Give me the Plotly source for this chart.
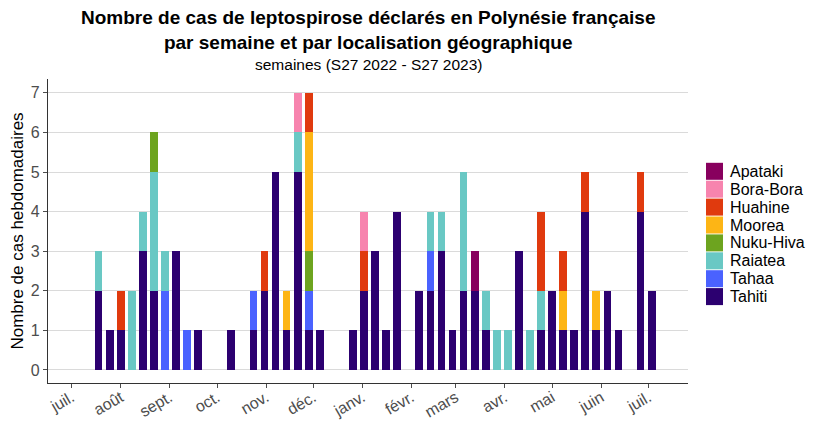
import pandas as pd
import plotly.graph_objects as go

# ISO weeks S27 2022 -> S27 2023 (week start Mondays)
week_start = pd.date_range("2022-07-04", periods=53, freq="7D")

tahiti    = [0,0, 2,1,1,0,3,2,0,3,0,1,0,0,1,0,1,2,5,1,5,1,1,0,0,1,2,3,1,4,0,2,2,3,1,2,2,1,0,0,3,0,1,2,1,1,4,1,2,1,0,4,2]
tahaa     = [0,0, 0,0,0,0,0,0,2,0,1,0,0,0,0,0,1,0,0,0,0,1,0,0,0,0,0,0,0,0,0,0,1,0,0,0,0,0,0,0,0,0,0,0,0,0,0,0,0,0,0,0,0]
raiatea   = [0,0, 1,0,0,2,1,3,1,0,0,0,0,0,0,0,0,0,0,0,1,0,0,0,0,0,0,0,0,0,0,0,1,1,0,3,0,1,1,1,0,1,1,0,0,0,0,0,0,0,0,0,0]
nukuhiva  = [0,0, 0,0,0,0,0,1,0,0,0,0,0,0,0,0,0,0,0,0,0,1,0,0,0,0,0,0,0,0,0,0,0,0,0,0,0,0,0,0,0,0,0,0,0,0,0,0,0,0,0,0,0]
moorea    = [0,0, 0,0,0,0,0,0,0,0,0,0,0,0,0,0,0,0,0,1,0,3,0,0,0,0,0,0,0,0,0,0,0,0,0,0,0,0,0,0,0,0,0,0,1,0,0,1,0,0,0,0,0]
huahine   = [0,0, 0,0,1,0,0,0,0,0,0,0,0,0,0,0,0,1,0,0,0,1,0,0,0,0,1,0,0,0,0,0,0,0,0,0,0,0,0,0,0,0,2,0,1,0,1,0,0,0,0,1,0]
borabora  = [0,0, 0,0,0,0,0,0,0,0,0,0,0,0,0,0,0,0,0,0,1,0,0,0,0,0,1,0,0,0,0,0,0,0,0,0,0,0,0,0,0,0,0,0,0,0,0,0,0,0,0,0,0]
apataki   = [0,0, 0,0,0,0,0,0,0,0,0,0,0,0,0,0,0,0,0,0,0,0,0,0,0,0,0,0,0,0,0,0,0,0,0,0,1,0,0,0,0,0,0,0,0,0,0,0,0,0,0,0,0]

# stacking order: bottom -> top
series = [
    ("Tahiti", tahiti, "#2C0070"),
    ("Tahaa", tahaa, "#4A62FF"),
    ("Raiatea", raiatea, "#69C8C4"),
    ("Nuku-Hiva", nukuhiva, "#6DA41F"),
    ("Moorea", moorea, "#FDB515"),
    ("Huahine", huahine, "#E03A0E"),
    ("Bora-Bora", borabora, "#F784AE"),
    ("Apataki", apataki, "#88005E"),
]

month_ticks = pd.date_range("2022-07-01", "2023-07-01", freq="MS")
month_labels = ["juil.", "août", "sept.", "oct.", "nov.", "déc.", "janv.",
                "févr.", "mars", "avr.", "mai", "juin", "juil."]

FONT = "Liberation Sans, Arial, sans-serif"
OFF = 8  # page body margin
W, H = 818 - OFF, 421 - OFF
ML = 48 - OFF
MT = 79 - OFF
MR = W - (688 - OFF)
MB = H - (383 - OFF)
PW, PH = W - ML - MR, H - MT - MB

fig = go.Figure()
bar_w = 4.9 * 86400000
for name, vals, col in series:
    fig.add_trace(go.Bar(
        x=week_start, y=vals, name=name, width=bar_w, showlegend=False,
        marker=dict(color=col, line=dict(width=0)),
    ))

# custom legend (ggplot style: touching square keys)
shapes, annotations = [], []
legend_items = list(reversed(series))
y0_px, step_px, key = 171.3 - OFF, 17.9, 17
for i, (name, vals, col) in enumerate(legend_items):
    cy = y0_px + i * step_px
    py = (H - MB - cy) / PH
    half = (key / 2) / PH
    x0 = (706 - OFF - ML) / PW
    x1 = (706 - OFF + key - ML) / PW
    shapes.append(dict(type="rect", xref="paper", yref="paper", x0=x0, x1=x1,
                       y0=py - half, y1=py + half, fillcolor=col, line=dict(width=0), layer="above"))
    annotations.append(dict(text=name, xref="paper", yref="paper", x=(728 - OFF - ML) / PW, y=py,
                            xanchor="left", yanchor="middle", showarrow=False,
                            font=dict(size=16, family=FONT, color="#000000")))

annotations += [
    dict(text="<b>Nombre de cas de leptospirose déclarés en Polynésie française<br>par semaine et par localisation géographique</b>",
         xref="paper", yref="paper", x=0.5, y=1, yshift=74, xanchor="center", yanchor="top",
         showarrow=False, font=dict(size=19, family=FONT, color="#000000")),
    dict(text="semaines (S27 2022 - S27 2023)",
         xref="paper", yref="paper", x=0.5, y=1, yshift=25, xanchor="center", yanchor="top",
         showarrow=False, font=dict(size=15.5, family=FONT, color="#000000")),
]

fig.update_layout(
    width=W, height=H,
    barmode="stack",
    plot_bgcolor="white", paper_bgcolor="white",
    margin=dict(l=ML, r=MR, t=MT, b=MB, autoexpand=False),
    font=dict(family=FONT, color="#000000"),
    showlegend=False,
    xaxis=dict(
        type="date", automargin=False,
        range=["2022-06-16", "2023-07-26"],
        tickvals=month_ticks, ticktext=month_labels,
        tickangle=-30, tickfont=dict(size=16, color="#4D4D4D", family=FONT),
        ticklabelstandoff=-6,
        showgrid=False, showline=True, linecolor="#333333", linewidth=1.2,
        ticks="outside", ticklen=4, tickcolor="#4D4D4D", zeroline=False,
    ),
    yaxis=dict(
        automargin=False,
        range=[-0.33, 7.35], tickvals=list(range(8)),
        tickfont=dict(size=16, color="#4D4D4D", family=FONT),
        showgrid=True, gridcolor="#DADADA", gridwidth=1,
        showline=True, linecolor="#333333", linewidth=1.2,
        ticks="outside", ticklen=4, tickcolor="#4D4D4D", zeroline=False,
        title=dict(text="Nombre de cas hebdomadaires", font=dict(size=17, family=FONT, color="#000000"), standoff=6),
    ),
    shapes=shapes,
    annotations=annotations,
)

fig.write_html("out.html")
